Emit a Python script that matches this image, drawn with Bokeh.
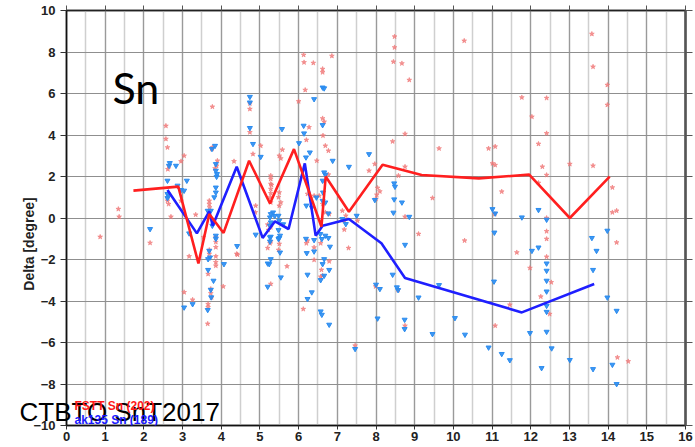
import math
from bokeh.plotting import figure
from bokeh.models import SingleIntervalTicker, Label, Range1d, LinearAxis, CustomLabelingPolicy
from bokeh.embed import file_html
from bokeh.resources import INLINE

# ---- data ----
red_line_x = [1.73, 2.89, 3.41, 3.69, 4.06, 4.72, 5.26, 5.88, 6.59, 6.70, 7.30, 8.17, 9.18, 10.66, 11.96, 13.01, 14.04]
red_line_y = [1.32, 1.51, -2.19, 0.19, -0.72, 2.76, 0.70, 3.32, -0.42, 2.00, 0.30, 2.57, 2.07, 1.91, 2.09, 0.00, 1.99]

blue_line_x = [2.61, 3.37, 3.69, 3.78, 4.40, 5.07, 5.39, 5.74, 6.16, 6.44, 6.62, 7.30, 8.14, 8.75, 11.77, 13.64]
blue_line_y = [1.35, -0.74, 0.32, -0.37, 2.47, -0.96, -0.16, -0.53, 2.63, -0.85, -0.37, -0.05, -1.22, -2.89, -4.55, -3.18]

red_pts = [
    (0.87, -0.91), (1.34, 0.43), (1.36, 0.06), (2.16, -1.2),
    (2.57, 4.44), (2.57, 3.81), (2.61, 3.40), (2.65, 2.52), (2.62, 2.35),
    (3.04, 3.0), (2.96, 2.73), (2.61, 1.0), (2.61, 0.83), (2.64, 0.67), (2.96, 0.83), (2.70, 0.06),
    (3.34, 0.16), (3.17, -1.85), (3.04, -3.58), (3.26, -3.94), (3.65, -5.1), (3.66, -4.15), (3.66, -4.3),
    (3.73, -3.42), (3.73, -3.63), (3.75, -3.83), (3.66, -2.7), (3.69, -1.54), (3.69, -1.73),
    (3.86, -0.93), (3.86, -1.16), (3.86, -1.41), (3.86, -1.85), (3.86, -2.13), (3.86, -2.3),
    (3.69, 0.83), (3.69, 0.67), (3.70, 0.51), (3.77, 3.40), (3.76, 3.33), (3.77, 5.36),
    (3.90, 2.76), (3.88, 2.52), (3.84, 2.39), (4.05, -3.3), (3.54, -0.93), (4.40, -1.73),
    (4.74, 5.52), (4.74, 5.25), (4.74, 4.13), (5.02, 3.48), (4.82, 3.08), (4.33, 2.73),
    (5.50, 3.0), (5.54, 2.87), (5.58, 3.29),
    (5.28, 2.04), (5.28, 1.88), (5.28, 1.64), (5.30, 1.59), (5.28, 1.40), (5.28, 1.19), (5.27, 0.99), (5.28, 0.75),
    (5.50, 1.23), (5.54, 0.75), (5.48, 1.0), (5.50, 0.59), (4.89, 0.59), (4.88, 0.27),
    (6.13, 7.86), (6.14, 7.5), (6.38, 7.47), (6.86, 7.81), (6.62, 7.18), (6.62, 7.02),
    (6.17, 6.17), (6.0, 5.62), (6.62, 4.8), (6.66, 4.64), (6.27, 4.37), (6.20, 3.76), (6.63, 3.97),
    (6.69, 3.48), (6.77, 3.24), (6.47, 2.76), (6.77, 2.09),
    (6.23, 1.16), (6.40, 1.07), (6.53, 1.07), (6.62, 0.67), (6.69, 0.27), (6.79, 0.19),
    (7.13, 0.35), (7.18, -0.13), (7.22, 0.11), (4.42, -1.77),
    (5.20, -0.32), (5.28, -0.45), (5.22, -0.58), (5.28, -1.13), (5.26, -1.22), (5.20, -1.45),
    (5.50, -1.25), (5.48, -1.54), (5.70, -2.33), (5.28, -3.18),
    (6.23, -1.09), (6.20, -1.22), (6.40, -1.42), (6.40, -2.02), (6.57, -1.22), (6.79, -2.09),
    (6.59, -2.5), (6.62, -2.78), (6.57, -2.83), (6.12, -4.39),
    (7.29, -1.45), (7.18, -0.56), (7.46, -6.15),
    (8.48, 8.74), (8.48, 8.22), (8.45, 7.53), (8.67, 7.45), (8.86, 6.65), (10.28, 8.54),
    (8.75, 4.05), (8.43, 3.69), (9.63, 3.35), (7.97, 2.6), (7.82, 2.28), (8.75, 2.47), (8.58, 2.04),
    (8.04, 1.45), (8.10, 1.28), (8.02, 1.12), (8.0, 0.92), (9.46, 0.96),
    (10.91, 3.35), (11.08, 3.44), (11.01, 2.63), (11.08, 2.55), (11.25, 1.27),
    (8.75, 0.06), (7.52, -0.13), (11.07, 0.19), (9.10, -0.77), (10.29, -1.09), (11.64, -1.66),
    (7.99, -3.3), (8.57, -3.47), (8.75, -5.19), (11.08, -5.19), (11.46, -4.18),
    (13.58, 8.87), (13.61, 7.29), (13.98, 6.41), (13.98, 5.45), (11.77, 5.81), (12.41, 5.78),
    (12.03, 4.88), (12.41, 4.08), (12.20, 3.57), (12.30, 2.47), (12.41, 2.07), (12.20, 1.69),
    (13.01, 2.6), (13.61, 2.52), (14.11, 1.47), (14.11, 0.27), (14.22, 0.35),
    (12.41, 0.0), (12.41, -0.64), (12.41, -1.01), (14.22, -1.18), (12.41, -1.87), (11.98, -2.41),
    (12.53, -3.1), (12.26, -3.79), (12.49, -4.63), (14.24, -6.72), (14.52, -6.91),
]

blue_pts = [
    (2.16, -0.53), (2.67, 2.65), (2.65, 2.52), (2.83, 2.52), (2.61, 1.8), (2.61, 1.16), (2.64, 1.07), (2.61, 0.96),
    (3.11, 1.8), (2.87, 1.56), (2.96, 1.35), (3.04, 1.32),
    (3.17, -0.74), (3.04, -4.31), (3.26, -4.15), (3.65, -4.43),
    (3.73, 0.35), (3.65, 0.35), (3.77, -0.37),
    (3.71, -1.9), (3.66, -1.98), (3.69, -1.58), (3.66, -2.5), (3.80, -3.02), (3.73, -3.46), (3.74, -3.82),
    (3.86, -0.85), (3.86, -1.0), (3.86, 2.28), (3.89, 2.12), (3.86, 1.47), (3.86, 1.23), (3.82, 1.0),
    (3.84, 3.48), (3.76, 3.33), (3.86, 2.6), (3.88, 1.99), (4.07, -2.22), (4.41, -1.35),
    (4.74, 5.84), (4.74, 5.57), (4.74, 4.34), (4.82, 3.57), (5.02, 2.95), (5.57, 4.29),
    (6.13, 4.45), (6.14, 4.08), (6.40, 5.73), (6.62, 6.29), (6.66, 6.25),
    (6.01, 3.61), (6.29, 3.16), (6.19, 2.92), (6.62, 4.48), (6.88, 2.76),
    (6.66, 2.2), (6.69, 2.09), (6.62, 1.8), (6.63, 1.23), (6.62, 0.83),
    (6.20, 0.6), (6.34, 0.51), (6.46, 0.99), (5.38, 0.10), (5.60, -0.3),
    (4.89, -0.8), (5.26, -0.93), (5.50, -0.96), (6.19, -1.0),
    (7.13, -0.05), (7.22, -0.29), (7.30, 2.47),
    (5.28, 0.19), (5.34, 0.27), (5.26, 0.03), (5.28, -0.21), (5.26, -0.37),
    (5.48, 0.11), (5.50, -0.13), (5.48, -0.58), (5.52, -0.85), (5.48, -1.01), (5.52, -1.66),
    (5.28, -0.9), (5.26, -1.13), (5.20, -2.19), (5.24, -2.22), (5.28, -1.98), (5.54, -2.86), (5.20, -3.31),
    (6.21, -1.69), (6.23, -2.73), (6.34, -3.58), (6.23, -3.9), (6.40, -1.06), (6.40, -1.61),
    (6.56, -0.77), (6.69, -0.85), (6.77, -0.96), (6.60, -1.01),
    (6.81, -1.38), (6.66, -1.98), (6.62, -2.22), (6.79, -2.5), (6.66, -2.78), (6.57, -2.99),
    (6.57, -4.5), (6.60, -4.66), (6.79, -5.14), (6.69, 0.75), (6.77, 0.22),
    (7.46, -6.31), (7.50, 0.11),
    (7.82, 3.08), (8.47, 1.67), (8.49, 1.51), (7.97, 0.87), (8.47, 0.9), (8.67, 0.75), (8.45, 0.26), (8.86, 0.06),
    (8.75, -1.29), (11.01, 0.43), (11.08, 0.22), (11.06, -0.70),
    (8.43, -2.73), (8.0, -3.21), (8.10, -3.42), (8.54, -3.34), (8.57, -3.47), (9.63, -3.23), (9.10, -3.83), (11.05, -3.06),
    (8.04, -4.84), (8.74, -4.9), (8.74, -5.35), (10.04, -4.82), (9.46, -5.59), (10.30, -5.62),
    (10.91, -6.24), (11.25, -6.55), (11.46, -6.85),
    (12.20, 0.39), (11.77, 0.03), (12.41, -0.08), (13.98, -0.61), (13.58, -0.96), (13.70, -1.58),
    (12.03, -1.58), (12.20, -1.42), (12.41, -2.19), (12.41, -2.54), (12.41, -3.02), (12.41, -3.54),
    (13.61, -2.5), (13.98, -3.83), (14.22, -4.47), (12.41, -4.23), (12.41, -4.52),
    (11.98, -5.54), (12.41, -5.48), (12.54, -6.28), (13.01, -6.84), (12.28, -7.23), (13.61, -7.28),
    (14.11, -7.07), (14.22, -8.0),
]
red_x = [a for a, b in red_pts]
red_y = [b for a, b in red_pts]
blue_x = [a for a, b in blue_pts]
blue_y = [b for a, b in blue_pts]

x_ticks_interval = 1
y_ticks_interval = 2

FONT = "Liberation Sans"
SHIFT = 150  # hidden strip above the visible page (negative top margin)

p = figure(width=695, height=447 + SHIFT, x_range=Range1d(0, 16), y_range=Range1d(-10, 10),
           output_backend="svg", toolbar_location=None,
           min_border_left=66, min_border_right=10, min_border_top=10 + SHIFT, min_border_bottom=22,
           margin=(-SHIFT, 0, 0, 0))
p.background_fill_color = "white"
p.border_fill_color = "white"
p.outline_line_color = "#222222"
p.outline_line_width = 1.5

xt = SingleIntervalTicker(interval=x_ticks_interval, num_minor_ticks=2)
yt = SingleIntervalTicker(interval=y_ticks_interval, num_minor_ticks=0)
p.xaxis.ticker = xt
p.yaxis.ticker = yt
p.xgrid.ticker = xt
p.ygrid.ticker = yt

p.xgrid.grid_line_color = "#9a9a9a"
p.xgrid.grid_line_width = 1.2
p.xgrid.minor_grid_line_color = "#cfcfcf"
p.xgrid.minor_grid_line_width = 1.5
p.ygrid.grid_line_color = "#8f8f8f"
p.ygrid.grid_line_width = 1.2

for ax in (p.xaxis[0], p.yaxis[0]):
    ax.major_label_text_font = FONT
    ax.major_label_text_font_style = "bold"
    ax.major_label_text_font_size = "13px"
    ax.major_label_text_color = "#222222"
    ax.axis_line_color = "#111111"
    ax.axis_line_width = 1.5
    ax.major_tick_line_color = "#333333"
    ax.minor_tick_line_color = None
    ax.major_tick_in = 0
p.yaxis.major_tick_out = 6
p.yaxis.major_label_standoff = 5
p.xaxis.major_tick_out = 4
p.xaxis.major_label_standoff = 2

# tick-only axes on the top and right edges
no_labels = "return new Set()"
right_ax = LinearAxis(ticker=SingleIntervalTicker(interval=y_ticks_interval, num_minor_ticks=0),
                      major_label_policy=CustomLabelingPolicy(code=no_labels),
                      major_label_text_font_size="0px", major_label_standoff=0,
                      axis_line_color="#555555", axis_line_width=2.5,
                      major_tick_out=7, major_tick_in=0, major_tick_line_color="#555555",
                      minor_tick_line_color=None)
p.add_layout(right_ax, "right")
top_ax = LinearAxis(ticker=SingleIntervalTicker(interval=x_ticks_interval, num_minor_ticks=0),
                    major_label_policy=CustomLabelingPolicy(code=no_labels),
                    major_label_text_font_size="0px", major_label_standoff=0,
                    axis_line_color="#222222", axis_line_width=1.5,
                    major_tick_out=5, major_tick_in=0, major_tick_line_color="#555555",
                    minor_tick_line_color=None)
p.add_layout(top_ax, "above")

# scatter
p.scatter(red_x, red_y, marker="star", size=5, fill_color="#f07878", line_color="#f07878",
          fill_alpha=0.8, line_alpha=0.6)
p.scatter(blue_x, blue_y, marker="inverted_triangle", size=5, fill_color="#2a8cf0",
          line_color="#2a8cf0", fill_alpha=0.9)

# lines
p.line(blue_line_x, blue_line_y, line_color="#1f1fff", line_width=2.6)
p.line(red_line_x, red_line_y, line_color="#ff1f1f", line_width=2.6)


def canvas_label(x, y, **kw):
    return Label(x=x, y=y + SHIFT, x_units="canvas", y_units="canvas", **kw)


# texts
p.add_layout(canvas_label(112, 87, text="Sn", text_font="Lato", text_font_size="43px",
                          text_color="black", text_baseline="alphabetic"))
p.add_layout(canvas_label(74, 405, text="FSTT Sn (202)", text_font=FONT, text_font_style="bold",
                          text_font_size="12px", text_color="#ff1a1a", text_baseline="alphabetic"))
p.add_layout(canvas_label(74, 419, text="ak135 Sn (189)", text_font=FONT, text_font_style="bold",
                          text_font_size="12px", text_color="#1a1aff", text_baseline="alphabetic"))
# labels placed in the (hidden) top side panel so that they are not clipped to the frame
p.add_layout(canvas_label(28, 243.5, text="Delta [degree]", angle=math.pi / 2,
                          text_align="center", text_baseline="middle", text_font=FONT,
                          text_font_style="bold", text_font_size="14px", text_color="#222222"),
             "above")
p.add_layout(canvas_label(19, 411, text="CTBTO SnT2017", text_font=FONT,
                          text_font_size="26px", text_color="black", text_baseline="alphabetic"),
             "above")

open("out.html", "w").write(file_html(p, INLINE))
